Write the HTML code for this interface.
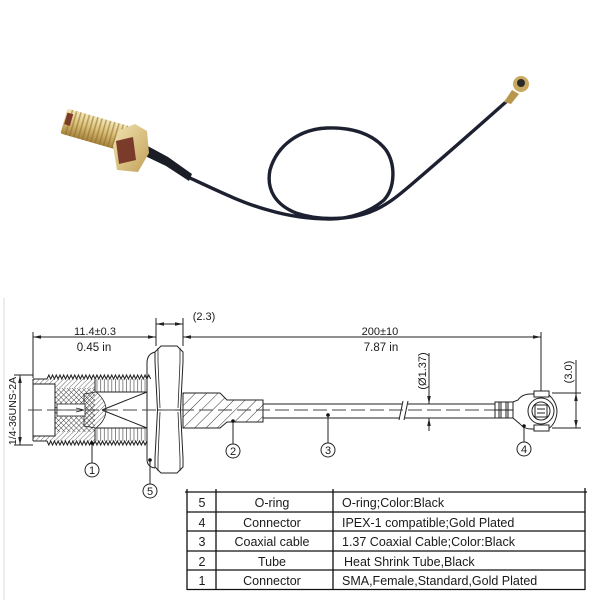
<!DOCTYPE html>
<html><head><meta charset="utf-8"><style>
html,body{margin:0;padding:0;background:#fff;}
svg{display:block;}
text{font-family:"Liberation Sans",Arial,sans-serif;fill:#1a1a1a;}
</style></head><body>
<svg width="600" height="600" viewBox="0 0 600 600" xmlns="http://www.w3.org/2000/svg">
<defs>
<pattern id="h1" width="3.4" height="3.4" patternUnits="userSpaceOnUse" patternTransform="rotate(45)"><line x1="0" y1="0" x2="0" y2="3.4" stroke="#444" stroke-width="0.8"/></pattern>
<pattern id="hx" width="3.6" height="3.6" patternUnits="userSpaceOnUse" patternTransform="rotate(45)"><path d="M0 0V3.6M0 0H3.6" stroke="#333" stroke-width="0.9" fill="none"/></pattern>
<pattern id="h2" width="8" height="8" patternUnits="userSpaceOnUse" patternTransform="rotate(45)"><line x1="0" y1="0" x2="0" y2="8" stroke="#333" stroke-width="1"/></pattern>
<pattern id="vt" x="47" width="3.7" height="20" patternUnits="userSpaceOnUse"><line x1="1.85" y1="0" x2="1.85" y2="20" stroke="#555" stroke-width="0.7"/></pattern>
<linearGradient id="gold" x1="0" y1="0" x2="0" y2="1"><stop offset="0" stop-color="#f4e9bb"/><stop offset="0.45" stop-color="#dcc27a"/><stop offset="1" stop-color="#a5823c"/></linearGradient>
<linearGradient id="gold2" x1="0" y1="0" x2="1" y2="1"><stop offset="0" stop-color="#f2e4b0"/><stop offset="1" stop-color="#c2a05a"/></linearGradient>
<pattern id="thr" width="4.4" height="40" patternUnits="userSpaceOnUse"><rect x="0" y="0" width="1.6" height="40" fill="#8d6c2c" opacity="0.55"/></pattern>
</defs>

<!-- ===== PHOTO ===== -->
<path d="M190,178 C220,192 245,204 268,210 C285,215 305,219 330,219 C350,219 370,212 384,200 C395,188 396,165 386,150 C373,133 350,127 327,128 C300,129 277,145 270,170 C266,190 276,205 296,213 C316,220 346,221 370,212 C386,206 398,196 412,184 C440,160 480,125 507,101" fill="none" stroke="#1c2031" stroke-width="3.4" stroke-linecap="round"/>
<polygon points="144,144 168,157 192,174 189,181 166,166 143,155" fill="#1a1c26"/>
<g transform="translate(64,121) rotate(16)">
  <rect x="0" y="-13" width="64" height="26" rx="2" fill="url(#gold)"/>
  <rect x="4" y="-13" width="60" height="26" fill="url(#thr)"/>
  <rect x="1" y="-9" width="6" height="12" fill="#7b3b2a"/>
</g>
<polygon points="113,146 118,131 135,124 147,131 149,153 138,172 117,170" fill="url(#gold2)"/>
<polygon points="116,141 133,137 136,160 119,164" fill="#7b3b2a"/>
<polygon points="504,102 512,90 519,94 511,104" fill="#b8964e"/>
<circle cx="521" cy="84" r="8" fill="#c9a860"/>
<circle cx="521" cy="83" r="4" fill="#2a2a2a"/>

<!-- ===== DRAWING ===== -->
<line x1="4" y1="298" x2="4" y2="600" stroke="#d8d8d8" stroke-width="1"/>
<g stroke="#222" stroke-width="1" fill="none">
  <line x1="33" y1="332" x2="33" y2="378"/>
  <line x1="156" y1="318" x2="156" y2="346"/>
  <line x1="183" y1="318" x2="183" y2="346"/>
  <line x1="541" y1="332" x2="541" y2="393"/>
  <line x1="33" y1="337" x2="156" y2="337"/>
  <line x1="183" y1="337" x2="541" y2="337"/>
  <line x1="156" y1="324" x2="183" y2="324"/>
  <line x1="14" y1="375" x2="33" y2="375"/>
  <line x1="14" y1="445" x2="33" y2="445"/>
  <line x1="20" y1="375" x2="20" y2="445"/>
  <line x1="429" y1="353" x2="429" y2="404"/>
  <line x1="429" y1="418" x2="429" y2="431"/>
  <line x1="552" y1="393" x2="581" y2="393"/>
  <line x1="552" y1="428" x2="581" y2="428"/>
  <line x1="576" y1="360" x2="576" y2="428"/>
</g>
<g fill="#222">
  <polygon points="33,337 41,335.2 41,338.8"/>
  <polygon points="156,337 148,335.2 148,338.8"/>
  <polygon points="183,337 191,335.2 191,338.8"/>
  <polygon points="541,337 533,335.2 533,338.8"/>
  <polygon points="156,324 164,322.2 164,325.8"/>
  <polygon points="183,324 175,322.2 175,325.8"/>
  <polygon points="20,375 18.2,383 21.8,383"/>
  <polygon points="20,445 18.2,437 21.8,437"/>
  <polygon points="429,404 427.2,396 430.8,396"/>
  <polygon points="429,418 427.2,426 430.8,426"/>
  <polygon points="576,393 574.2,401 577.8,401"/>
  <polygon points="576,428 574.2,420 577.8,420"/>
</g>
<text x="95" y="335" font-size="11" text-anchor="middle">11.4±0.3</text>
<text x="94" y="351" font-size="11.5" text-anchor="middle">0.45 in</text>
<text x="204" y="320" font-size="11" text-anchor="middle">(2.3)</text>
<text x="380" y="335" font-size="11" text-anchor="middle">200±10</text>
<text x="381" y="351" font-size="11.5" text-anchor="middle">7.87 in</text>
<text transform="translate(16,411) rotate(-90)" font-size="10.5" text-anchor="middle">1/4-36UNS-2A</text>
<text transform="translate(426,371) rotate(-90)" font-size="11" text-anchor="middle">(Ø1.37)</text>
<text transform="translate(572,372) rotate(-90)" font-size="11" text-anchor="middle">(3.0)</text>

<!-- SMA body section -->
<rect x="95" y="379" width="52" height="13" fill="url(#vt)"/>
<rect x="95" y="428" width="52" height="13" fill="url(#vt)"/>
<rect x="33" y="379" width="62" height="9" fill="url(#h1)"/>
<rect x="33" y="432" width="62" height="9" fill="url(#h1)"/>
<rect x="55" y="388" width="40" height="44" fill="url(#hx)"/>
<path d="M84,394 L96,392 Q106,400 106,410 Q106,420 96,428 L84,426 Z" fill="url(#h1)" stroke="#222" stroke-width="0.8"/>
<rect x="57" y="404" width="28" height="12" fill="#fff" stroke="#222" stroke-width="0.8"/>
<path d="M58,410 L82,410 M76,408 L84,410 L76,412" fill="none" stroke="#222" stroke-width="0.8"/>
<g stroke="#222" stroke-width="1" fill="none">
  <rect x="33" y="384" width="22" height="52" fill="#fff"/>
  <path d="M33,379 L47,379 l1.85,-4 1.85,4 1.85,-4 1.85,4 1.85,-4 1.85,4 1.85,-4 1.85,4 1.85,-4 1.85,4 1.85,-4 1.85,4 1.85,-4 1.85,4 1.85,-4 1.85,4 1.85,-4 1.85,4 1.85,-4 1.85,4 1.85,-4 1.85,4 1.85,-4 1.85,4 1.85,-4 1.85,4 1.85,-4 1.85,4 1.85,-4 1.85,4 1.85,-4 1.85,4 1.85,-4 1.85,4 1.85,-4 1.85,4 1.85,-4 1.85,4 1.85,-4 1.85,4 1.85,-4 1.85,4 1.85,-4 1.85,4 1.85,-4 1.85,4 1.85,-4 1.85,4 1.85,-4 1.85,4 1.85,-4 1.85,4 1.85,-4 1.85,4 1.85,-4 1.85,4"/>
  <path d="M33,441 L47,441 l1.85,4 1.85,-4 1.85,4 1.85,-4 1.85,4 1.85,-4 1.85,4 1.85,-4 1.85,4 1.85,-4 1.85,4 1.85,-4 1.85,4 1.85,-4 1.85,4 1.85,-4 1.85,4 1.85,-4 1.85,4 1.85,-4 1.85,4 1.85,-4 1.85,4 1.85,-4 1.85,4 1.85,-4 1.85,4 1.85,-4 1.85,4 1.85,-4 1.85,4 1.85,-4 1.85,4 1.85,-4 1.85,4 1.85,-4 1.85,4 1.85,-4 1.85,4 1.85,-4 1.85,4 1.85,-4 1.85,4 1.85,-4 1.85,4 1.85,-4 1.85,4 1.85,-4 1.85,4 1.85,-4 1.85,4 1.85,-4 1.85,4 1.85,-4"/>
  <line x1="33" y1="379" x2="33" y2="441"/>
  <line x1="147" y1="375" x2="147" y2="445"/>
  <line x1="95" y1="392" x2="147" y2="392"/>
  <line x1="95" y1="428" x2="147" y2="428"/>
  <line x1="95" y1="379" x2="95" y2="392"/>
  <line x1="95" y1="428" x2="95" y2="441"/>
  <line x1="102" y1="410" x2="147" y2="392"/>
  <line x1="102" y1="410" x2="147" y2="428"/>
  <path d="M155,352 Q147,354 147,363 L147,459 Q147,467 155,468"/>
  <path d="M161,346 L177,346 L183,352 L183,362 L180.5,410 L183,458 L183,467 L177,473 L161,473 L155,467 L155,458 L157.5,410 L155,362 L155,352 Z" fill="#fff"/>
  <path d="M158,348 L158,362 L160,408 M160,412 L158,458 L158,471" stroke-width="0.8"/>
  <path d="M180,348 L180,362 L178,408 M178,412 L180,458 L180,471" stroke-width="0.8"/>
  <line x1="157.5" y1="410" x2="180.5" y2="410"/>
</g>
<polygon points="183,393 220,393 227,400 263,400 263,422 227,422 220,428 183,428" fill="url(#h2)" stroke="#222" stroke-width="1"/>
<g stroke="#222" stroke-width="1" fill="none">
  <line x1="263" y1="404" x2="402" y2="404"/>
  <line x1="263" y1="418" x2="399" y2="418"/>
  <line x1="408" y1="404" x2="496" y2="404"/>
  <line x1="405" y1="418" x2="496" y2="418"/>
  <line x1="399" y1="420" x2="403" y2="401"/>
  <line x1="404" y1="420" x2="408" y2="401"/>
</g>
<line x1="28" y1="410" x2="498" y2="410" stroke="#444" stroke-width="0.9" stroke-dasharray="14 5"/>
<g stroke="#222" stroke-width="1" fill="#fff">
  <rect x="495" y="402" width="18" height="16"/>
  <path d="M513,402 L518,400 Q522,394 531,394 L548,394 Q557,402 557,412 Q556,424 548,429 L531,429 Q524,429 520,424 L513,418 Z"/>
  <rect x="534" y="391" width="15" height="6"/>
  <rect x="534" y="425" width="15" height="6"/>
  <circle cx="541" cy="411" r="13"/>
  <circle cx="541" cy="411" r="9"/>
  <rect x="535" y="405" width="12" height="12"/>
</g>
<g stroke="#222" stroke-width="1">
  <line x1="499" y1="402" x2="499" y2="418"/><line x1="501" y1="402" x2="501" y2="418"/>
  <line x1="506" y1="402" x2="506" y2="418"/><line x1="508" y1="402" x2="508" y2="418"/>
  <line x1="495" y1="410" x2="513" y2="410"/>
  <line x1="537" y1="409" x2="545" y2="409"/><line x1="537" y1="413" x2="545" y2="413"/>
</g>

<g stroke="#222" stroke-width="1" fill="#fff">
  <line x1="92" y1="443" x2="92" y2="463"/><circle cx="92" cy="470" r="7"/>
  <line x1="150" y1="460" x2="150" y2="484"/><circle cx="150" cy="491" r="7"/>
  <line x1="233" y1="421" x2="233" y2="444"/><circle cx="233" cy="451" r="7"/>
  <line x1="328" y1="415" x2="328" y2="443"/><circle cx="328" cy="450" r="7"/>
  <line x1="524" y1="426" x2="524" y2="442"/><circle cx="524" cy="449" r="7"/>
</g>
<g fill="#111">
  <circle cx="92" cy="443" r="1.8"/><circle cx="150" cy="460" r="1.8"/><circle cx="233" cy="421" r="1.8"/><circle cx="328" cy="415" r="1.8"/><circle cx="524" cy="426" r="1.8"/>
</g>
<g font-size="11" text-anchor="middle">
  <text x="92" y="474">1</text><text x="150" y="495">5</text><text x="233" y="455">2</text><text x="328" y="454">3</text><text x="524" y="453">4</text>
</g>

<g stroke="#111" stroke-width="1.3">
  <line x1="185" y1="492" x2="587" y2="492"/>
  <line x1="187" y1="512" x2="585" y2="512"/>
  <line x1="187" y1="531" x2="585" y2="531"/>
  <line x1="187" y1="551" x2="585" y2="551"/>
  <line x1="187" y1="570" x2="585" y2="570"/>
  <line x1="187" y1="589.5" x2="585" y2="589.5"/>
  <line x1="187" y1="489" x2="187" y2="590"/>
  <line x1="216" y1="489" x2="216" y2="590"/>
  <line x1="333" y1="489" x2="333" y2="590"/>
  <line x1="585" y1="488" x2="585" y2="590"/>
</g>
<g font-size="12.5">
  <text x="202" y="507" text-anchor="middle">5</text>
  <text x="272" y="507" text-anchor="middle">O-ring</text>
  <text x="342" y="507">O-ring;Color:Black</text>
  <text x="202" y="527" text-anchor="middle">4</text>
  <text x="272" y="527" text-anchor="middle">Connector</text>
  <text x="342" y="527">IPEX-1 compatible;Gold Plated</text>
  <text x="202" y="546" text-anchor="middle">3</text>
  <text x="272" y="546" text-anchor="middle">Coaxial cable</text>
  <text x="342" y="546">1.37 Coaxial Cable;Color:Black</text>
  <text x="202" y="566" text-anchor="middle">2</text>
  <text x="272" y="566" text-anchor="middle">Tube</text>
  <text x="344" y="566">Heat Shrink Tube,Black</text>
  <text x="202" y="585" text-anchor="middle">1</text>
  <text x="272" y="585" text-anchor="middle">Connector</text>
  <text x="342" y="585">SMA,Female,Standard,Gold Plated</text>
</g>
</svg>
</body></html>
